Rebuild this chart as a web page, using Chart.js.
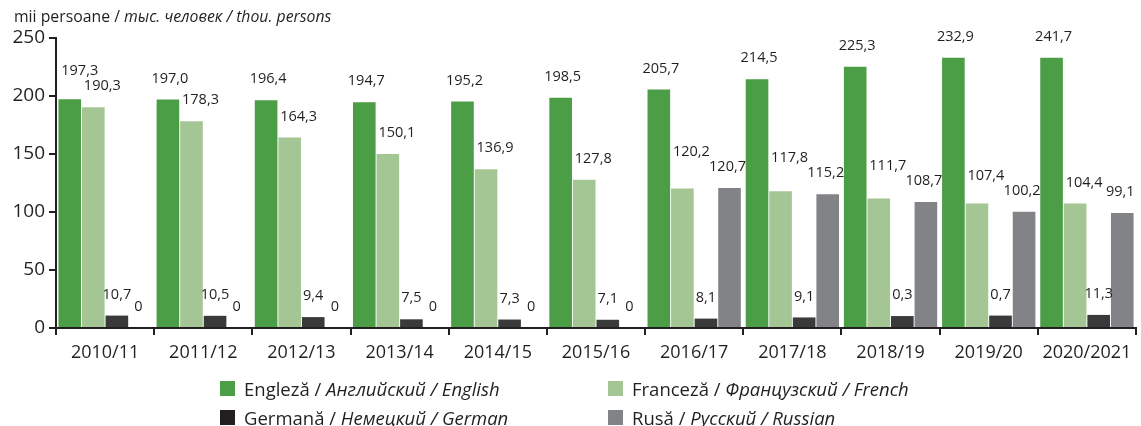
<!DOCTYPE html>
<html>
<head>
<meta charset="utf-8">
<script src="https://cdn.jsdelivr.net/npm/chart.js@4"></script>
<style>
  body { margin: 0; background: #fff; font-family: 'Open Sans', sans-serif; color: #231f20; }
  #wrap { position: relative; width: 1141px; height: 426px; }
  #unit { position: absolute; left: 14px; top: 5px; font-size: 15.8px; white-space: nowrap; }
  .legend { position: absolute; font-size: 18.5px; white-space: nowrap; display: flex; align-items: center; height: 20px; }
  .legend .box { width: 15px; height: 15px; margin-right: 9px; }
</style>
</head>
<body>
<div id="wrap">
  <canvas id="langChart" width="1141" height="426"></canvas>
  <div id="unit">mii persoane / <i>тыс. человек / thou. persons</i></div>
  <div class="legend" style="left:220px; top:378px;"><span class="box" style="background:#4b9d46"></span>Engleză /&nbsp;<i>Английский / English</i></div>
  <div class="legend" style="left:608px; top:378px;"><span class="box" style="background:#a4c694"></span>Franceză /&nbsp;<i>Французский / French</i></div>
  <div class="legend" style="left:220px; top:407px;"><span class="box" style="background:#231f20"></span>Germană /&nbsp;<i>Немецкий / German</i></div>
  <div class="legend" style="left:608px; top:407px;"><span class="box" style="background:#828387"></span>Rusă /&nbsp;<i>Русский / Russian</i></div>
</div>
<script>
const categories = ['2010/11', '2011/12', '2012/13', '2013/14', '2014/15', '2015/16', '2016/17', '2017/18', '2018/19', '2019/20', '2020/2021'];

// bar heights as drawn in the picture
const english = [197.3, 197.0, 196.4, 194.7, 195.2, 198.5, 205.7, 214.5, 225.3, 232.9, 232.9];
const french = [190.3, 178.3, 164.3, 150.1, 136.9, 127.8, 120.2, 117.8, 111.7, 107.4, 107.4];
const german = [10.7, 10.5, 9.4, 7.5, 7.3, 7.1, 8.1, 9.1, 10.3, 10.7, 11.3];
const russian = [0, 0, 0, 0, 0, 0, 120.7, 115.2, 108.7, 100.2, 99.1];

// value labels as printed in the picture
const englishLabels = ['197,3', '197,0', '196,4', '194,7', '195,2', '198,5', '205,7', '214,5', '225,3', '232,9', '241,7'];
const frenchLabels = ['190,3', '178,3', '164,3', '150,1', '136,9', '127,8', '120,2', '117,8', '111,7', '107,4', '104,4'];
const germanLabels = ['10,7', '10,5', '9,4', '7,5', '7,3', '7,1', '8,1', '9,1', '0,3', '0,7', '11,3'];
const russianLabels = ['0', '0', '0', '0', '0', '0', '120,7', '115,2', '108,7', '100,2', '99,1'];

const yTicks = [0, 50, 100, 150, 200, 250];

const ink = '#231f20';
const font = "'Open Sans', sans-serif";

const valueLabels = {
  id: 'valueLabels',
  afterDatasetsDraw(chart) {
    const ctx = chart.ctx;
    const dx = [2, 9, 0, -2];
    ctx.save();
    ctx.font = '14.5px ' + font;
    ctx.fillStyle = ink;
    ctx.textAlign = 'center';
    ctx.textBaseline = 'middle';
    const placed = [];
    // right-most series first, so earlier labels can dodge later ones
    for (let d = chart.data.datasets.length - 1; d >= 0; d--) {
      const ds = chart.data.datasets[d];
      const meta = chart.getDatasetMeta(d);
      meta.data.forEach((bar, i) => {
        const txt = ds.labelsText[i];
        const w = ctx.measureText(txt).width;
        let x = bar.x + dx[d];
        let y = bar.y - 21;
        placed.forEach(p => {
          if (p.i === i && Math.abs(p.x - x) < (p.w + w) / 2 + 1 && Math.abs(p.y - y) < 15) {
            y = p.y - 15;
            if (d === 0) x += 8;
          }
        });
        placed.push({ i, x, y, w });
        ctx.fillText(txt, x, y);
      });
    }
    ctx.restore();
  }
};

document.addEventListener('DOMContentLoaded', () => {
  const canvas = document.getElementById('langChart');
  const ctx = canvas.getContext('2d');
  const bar = { categoryPercentage: 0.96, barPercentage: 0.96 };
  new Chart(ctx, {
    type: 'bar',
    data: {
      labels: categories,
      datasets: [
        { label: 'Engleză', data: english, labelsText: englishLabels, backgroundColor: '#4b9d46', ...bar },
        { label: 'Franceză', data: french, labelsText: frenchLabels, backgroundColor: '#a4c694', ...bar },
        { label: 'Germană', data: german, labelsText: germanLabels, backgroundColor: '#3a3a3a', ...bar },
        { label: 'Rusă', data: russian, labelsText: russianLabels, backgroundColor: '#828387', ...bar },
      ],
    },
    options: {
      responsive: false,
      animation: false,
      layout: { padding: { top: 38, right: 5, left: 0, bottom: 0 } },
      plugins: {
        legend: { display: false },
        tooltip: { enabled: false },
      },
      scales: {
        x: {
          afterFit: (s) => { s.height = 98; },
          grid: { offset: true, drawOnChartArea: false, tickLength: 7, color: ink, lineWidth: 2 },
          border: { display: true, color: ink, width: 2 },
          ticks: { color: ink, font: { family: font, size: 18 }, padding: 7, maxRotation: 0 },
        },
        y: {
          min: 0,
          max: 250,
          afterFit: (s) => { s.width = 56; },
          afterBuildTicks: (s) => { s.ticks = yTicks.map(v => ({ value: v })); },
          grid: { drawOnChartArea: false, tickLength: 7, color: ink, lineWidth: 2 },
          border: { display: true, color: ink, width: 2 },
          ticks: { color: ink, font: { family: font, size: 19 }, padding: 4 },
        },
      },
    },
    plugins: [valueLabels],
  });
});
</script>
</body>
</html>
